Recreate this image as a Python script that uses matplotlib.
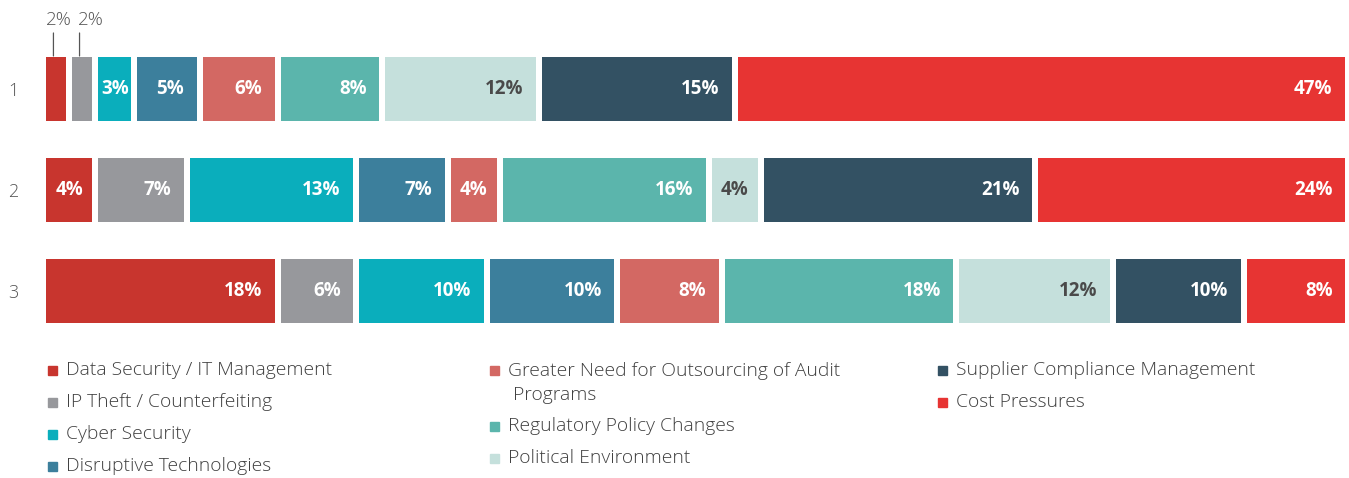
import matplotlib.pyplot as plt
from matplotlib.patches import Rectangle
import numpy as np

plt.rcParams['font.family'] = ['Open Sans', 'DejaVu Sans']

rows = ["1", "2", "3"]
categories = [
    "Data Security / IT Management",
    "IP Theft / Counterfeiting",
    "Cyber Security",
    "Disruptive Technologies",
    "Greater Need for Outsourcing of Audit\n Programs",
    "Regulatory Policy Changes",
    "Political Environment",
    "Supplier Compliance Management",
    "Cost Pressures",
]
values = [
    [2, 2, 3, 5, 6, 8, 12, 15, 47],
    [4, 7, 13, 7, 4, 16, 4, 21, 24],
    [18, 6, 10, 10, 8, 18, 12, 10, 8],
]
colors = ["#C8352E", "#97989C", "#0AAEBC", "#3C7F9C", "#D36863",
          "#5BB5AC", "#C5E0DC", "#335163", "#E73433"]
label_colors = ["white"] * 6 + ["#4A4A4A"] + ["white"] * 2

W, H = 1349, 478
fig = plt.figure(figsize=(W / 100, H / 100), dpi=100)
ax = fig.add_axes([46 / W, (H - 341.5) / H, 1303 / W, 303 / H])

gap = 0.46  # white space between segments, in percent units
bar_h = 0.634
for r, row in enumerate(values):
    y = r + 1
    left = 0
    k = 0  # count of small segments labelled from above
    for i, v in enumerate(row):
        ax.barh(y, v - gap, left=left, height=bar_h, color=colors[i])
        end = left + v - gap
        if v < 3:
            cx = left + (v - gap) / 2 - 0.2
            top = y - bar_h / 2 - 0.01
            ax.annotate("", xy=(cx, top), xytext=(0, 23), textcoords='offset pixels',
                        arrowprops=dict(arrowstyle='-', color="#555555", lw=0.9,
                                        shrinkA=0, shrinkB=0))
            ax.annotate(f"{v}%", xy=(cx, top), xytext=(5 + 6 * k, 27),
                        textcoords='offset pixels', ha='center', va='bottom',
                        fontsize=13.5, color="#555555", fontweight='light')
            k += 1
        elif v < 5:
            ax.text(left + (v - gap) / 2, y, f"{v}%", ha='center', va='center',
                    fontsize=13.5, fontweight='bold', color=label_colors[i])
        else:
            ax.text(end - 0.95, y, f"{v}%", ha='right', va='center',
                    fontsize=13.5, fontweight='bold', color=label_colors[i])
        left += v

ax.set_xlim(0, 99.85)
ax.set_ylim(3.5, 0.5)
ax.set_yticks([1, 2, 3])
ax.set_yticklabels(rows)
ax.set_xticks([])
ax.tick_params(axis='y', length=0, pad=20, labelsize=13, labelcolor="#555555")
for lab in ax.get_yticklabels():
    lab.set_fontweight('light')
for s in ax.spines.values():
    s.set_visible(False)

# legend laid out in three columns
legend_pos = [(48, 370), (48, 402), (48, 434), (48, 466),
              (490, 370), (490, 426), (490, 458),
              (938, 370), (938, 402)]
for i, (px, py) in enumerate(legend_pos):
    fig.patches.append(Rectangle((px / W, (H - py - 4.5) / H), 9 / W, 9 / H,
                                 transform=fig.transFigure, color=colors[i]))
    wrapped = "\n" in categories[i]
    fig.text((px + 18) / W, (H - py + (8 if wrapped else 0)) / H, categories[i],
             ha='left', va='top' if wrapped else 'center',
             fontsize=13.9, color="#404040", fontweight='light', linespacing=1.4)

fig.savefig("out.png", dpi=100)
